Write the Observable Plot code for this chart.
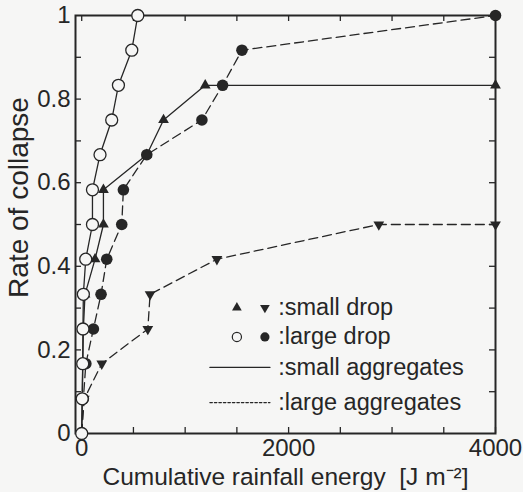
<!DOCTYPE html>
<html>
<head>
<meta charset="utf-8">
<script src="https://cdn.jsdelivr.net/npm/d3@7"></script>
<script src="https://cdn.jsdelivr.net/npm/@observablehq/plot@0.6"></script>
<style>
  html, body { margin: 0; padding: 0; background: #f6f6f5; }
</style>
</head>
<body>
<div id="chart"></div>
<script>
// ---- data (rate of collapse vs cumulative rainfall energy) ----
// small drop, small aggregates (filled up-triangle, solid line)
const sdSaX = [0, 5, 10, 16, 32, 129, 210, 210, 629, 791, 1194, 4000];
const sdSaY = [0, 0.083, 0.167, 0.25, 0.333, 0.417, 0.5, 0.583, 0.667, 0.75, 0.833, 0.833];
// large drop, small aggregates (open circle, solid line)
const ldSaX = [0, 5, 10, 12, 16, 39, 104, 104, 177, 290, 355, 484, 542];
const ldSaY = [0, 0.083, 0.167, 0.25, 0.333, 0.417, 0.5, 0.583, 0.667, 0.75, 0.833, 0.917, 1.0];
// small drop, large aggregates (filled down-triangle, dashed line)
const sdLaX = [0, 25, 194, 639, 661, 1307, 2872, 4000];
const sdLaY = [0, 0.083, 0.167, 0.25, 0.333, 0.417, 0.5, 0.5];
// large drop, large aggregates (filled circle, dashed line)
const ldLaX = [0, 16, 40, 113, 187, 242, 387, 403, 629, 1162, 1362, 1549, 4000];
const ldLaY = [0, 0.083, 0.167, 0.25, 0.333, 0.417, 0.5, 0.583, 0.667, 0.75, 0.833, 0.917, 1.0];

const xTickLabels = [0, 2000, 4000];
const xTicks = [0, 500, 1000, 1500, 2000, 2500, 3000, 3500, 4000];
const yTickLabels = [0, 0.2, 0.4, 0.6, 0.8, 1];
const yTicks = [0.1, 0.2, 0.3, 0.4, 0.5, 0.6, 0.7, 0.8, 0.9];

const legendLabels = [":small drop", ":large drop", ":small aggregates", ":large aggregates"];

// ---- build ----
const zip = (xs, ys) => xs.map((x, i) => ({x, y: ys[i]}));
const sdSa = zip(sdSaX, sdSaY);
const ldSa = zip(ldSaX, ldSaY);
const sdLa = zip(sdLaX, sdLaY);
const ldLa = zip(ldLaX, ldLaY);

const ink = "#262626";
const paper = "#f6f6f5";
const dash = "9,5";
const downTriangle = {
  draw(context, size) {
    const y = -Math.sqrt(size / (Math.sqrt(3) * 3));
    context.moveTo(0, -2 * y);
    context.lineTo(-Math.sqrt(3) * y, y);
    context.lineTo(Math.sqrt(3) * y, y);
    context.closePath();
  }
};

// legend layout (in chart units)
const legX1 = 1500, legX2 = 1771, legLine = [1239, 1820], legText = 1900;
const legRows = [0.301, 0.231, 0.158, 0.074];

const frameW = 420, frameH = 418, tickLen = 6;

const chart = Plot.plot({
  width: 523,
  height: 492,
  marginLeft: 75,
  marginRight: 28,
  marginTop: 15,
  marginBottom: 59,
  style: {fontFamily: "'Liberation Sans', Arial, sans-serif", fontSize: "24px", color: ink, background: paper},
  x: {domain: [-60, 4000]},
  y: {domain: [0, 1]},
  marks: [
    // ticks (inward on all four sides)
    Plot.tickX(xTicks, {x: d => d, insetTop: frameH - tickLen, stroke: ink, strokeWidth: 1.3}),
    Plot.tickX(xTicks, {x: d => d, insetBottom: frameH - tickLen, stroke: ink, strokeWidth: 1.3}),
    Plot.tickY(yTicks, {y: d => d, insetRight: frameW - tickLen, stroke: ink, strokeWidth: 1.3}),
    Plot.tickY(yTicks, {y: d => d, insetLeft: frameW - tickLen, stroke: ink, strokeWidth: 1.3}),
    Plot.axisX({ticks: xTickLabels, tickSize: 0, tickPadding: 5, label: null, tickFormat: d => String(d)}),
    Plot.axisY({ticks: yTickLabels, tickSize: 0, tickPadding: 5, label: null, tickFormat: d => String(d)}),
    Plot.frame({stroke: ink, strokeWidth: 2}),
    // lines
    Plot.line(ldLa, {x: "x", y: "y", stroke: ink, strokeWidth: 1.3, strokeDasharray: dash}),
    Plot.line(sdLa, {x: "x", y: "y", stroke: ink, strokeWidth: 1.3, strokeDasharray: dash}),
    Plot.line(sdSa, {x: "x", y: "y", stroke: ink, strokeWidth: 1.3}),
    Plot.line(ldSa, {x: "x", y: "y", stroke: ink, strokeWidth: 1.3}),
    // markers
    Plot.dot(ldLa, {x: "x", y: "y", r: 5.8, fill: ink, stroke: "none"}),
    Plot.dot(sdLa, {x: "x", y: "y", r: 4, symbol: downTriangle, fill: ink, stroke: "none"}),
    Plot.dot(sdSa, {x: "x", y: "y", r: 4, symbol: "triangle", fill: ink, stroke: "none"}),
    Plot.dot(ldSa, {x: "x", y: "y", r: 6, fill: paper, stroke: ink, strokeWidth: 1.3}),
    // legend
    Plot.dot([legX1], {x: d => d, y: legRows[0], r: 3.6, symbol: "triangle", fill: ink}),
    Plot.dot([legX2], {x: d => d, y: legRows[0], r: 3.6, symbol: downTriangle, fill: ink}),
    Plot.dot([legX1], {x: d => d, y: legRows[1], r: 4.6, fill: "none", stroke: ink, strokeWidth: 1.2}),
    Plot.dot([legX2], {x: d => d, y: legRows[1], r: 4.6, fill: ink}),
    Plot.line(legLine.map(x => ({x, y: legRows[2]})), {x: "x", y: "y", stroke: ink, strokeWidth: 1.2}),
    Plot.line(legLine.map(x => ({x, y: legRows[3]})), {x: "x", y: "y", stroke: ink, strokeWidth: 1.2, strokeDasharray: "2.5,2"}),
    Plot.text(legendLabels, {x: legText, y: (d, i) => legRows[i], text: d => d, textAnchor: "start", lineAnchor: "middle", fontSize: 23.5, fill: ink}),
    // axis titles
    Plot.text(["Cumulative rainfall energy\u00a0\u00a0[J m\u207b\u00b2]"], {frameAnchor: "bottom", textAnchor: "middle", lineAnchor: "middle", dy: 44, text: d => d, fontSize: 24.5, fill: ink}),
    Plot.text(["Rate of collapse"], {frameAnchor: "left", textAnchor: "middle", lineAnchor: "middle", dx: -56, dy: -27, rotate: -90, text: d => d, fontSize: 28, fill: ink})
  ]
});
document.getElementById("chart").appendChild(chart);
</script>
</body>
</html>
